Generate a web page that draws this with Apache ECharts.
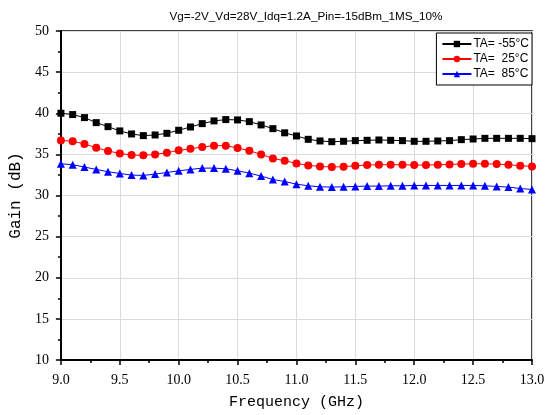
<!DOCTYPE html>
<html style="height: 100%">
	<head>
		<meta charset="utf-8">
	</head>
	<body style="height: 100%; margin: 0; background: #fff">
		<div id="container" style="width: 548px; height: 415px"></div>
		<script type="text/javascript" src="https://cdn.jsdelivr.net/npm/echarts@6/dist/echarts.min.js"></script>
		<script type="text/javascript">
			// frequency points, 9.0 .. 13.0 GHz step 0.1
			const freq = [
				9.0, 9.1, 9.2, 9.3, 9.4, 9.5, 9.6, 9.7, 9.8, 9.9,
				10.0, 10.1, 10.2, 10.3, 10.4, 10.5, 10.6, 10.7, 10.8, 10.9,
				11.0, 11.1, 11.2, 11.3, 11.4, 11.5, 11.6, 11.7, 11.8, 11.9,
				12.0, 12.1, 12.2, 12.3, 12.4, 12.5, 12.6, 12.7, 12.8, 12.9, 13.0
			];
			const gainM55 = [
				40.0, 39.84, 39.47, 38.86, 38.37, 37.85, 37.48, 37.28, 37.36, 37.56,
				37.93, 38.33, 38.74, 39.07, 39.23, 39.19, 38.98, 38.58, 38.13, 37.62,
				37.24, 36.83, 36.63, 36.54, 36.59, 36.67, 36.71, 36.75, 36.71, 36.67,
				36.59, 36.59, 36.63, 36.67, 36.79, 36.87, 36.95, 36.95, 36.95, 36.95, 36.91
			];
			const gain25 = [
				36.7, 36.6, 36.26, 35.81, 35.41, 35.12, 34.92, 34.88, 35.0, 35.2,
				35.49, 35.69, 35.89, 36.06, 36.06, 35.77, 35.45, 35.0, 34.51, 34.23,
				33.9, 33.66, 33.54, 33.46, 33.5, 33.62, 33.7, 33.74, 33.74, 33.74,
				33.7, 33.7, 33.74, 33.78, 33.82, 33.86, 33.86, 33.82, 33.74, 33.62, 33.54
			];
			const gain85 = [
				33.86, 33.74, 33.46, 33.17, 32.89, 32.68, 32.48, 32.44, 32.6, 32.8,
				33.0, 33.17, 33.33, 33.33, 33.25, 33.0, 32.72, 32.36, 31.95, 31.7,
				31.38, 31.18, 31.06, 31.02, 31.06, 31.1, 31.14, 31.14, 31.18, 31.18,
				31.22, 31.22, 31.22, 31.22, 31.22, 31.22, 31.18, 31.1, 31.02, 30.85, 30.73
			];
			const seriesNames = ['TA= -55°C', 'TA=  25°C', 'TA=  85°C'];

			function pairs(ys) {
				return freq.map(function (f, i) { return [f, ys[i]]; });
			}

			var dom = document.getElementById('container');
			var myChart = echarts.init(dom, null, { renderer: 'canvas' });

			const serifFont = 'Liberation Serif';
			const nameFont = 'Liberation Mono';

			function makeSeries(name, ys, color, symbol, size) {
				return {
					name: name,
					type: 'line',
					data: pairs(ys),
					symbol: symbol,
					symbolSize: size,
					showAllSymbol: true,
					lineStyle: { color: color, width: 1 },
					itemStyle: { color: color },
					animation: false
				};
			}

			var option = {
				backgroundColor: '#fff',
				title: {
					text: 'Vg=-2V_Vd=28V_Idq=1.2A_Pin=-15dBm_1MS_10%',
					left: 301,
					textAlign: 'center',
					top: 6,
					textStyle: { fontFamily: 'Liberation Sans', fontSize: 11.7, fontWeight: 'normal', color: '#000' }
				},
				legend: {
					orient: 'vertical',
					right: 16,
					top: 33,
					width: 94,
					data: seriesNames,
					itemWidth: 29,
					itemHeight: 8,
					itemGap: 3,
					padding: [5, 3, 5, 5],
					borderColor: '#000',
					borderWidth: 1,
					backgroundColor: '#fff',
					textStyle: { fontFamily: 'Liberation Sans', fontSize: 12, color: '#000', padding: [0, 0, 0, -3] }
				},
				grid: {
					left: 60,
					right: 16,
					top: 31,
					bottom: 54,
					show: true,
					borderColor: '#000',
					borderWidth: 1.5,
					backgroundColor: 'transparent'
				},
				xAxis: {
					type: 'value',
					min: 9,
					max: 13,
					interval: 0.5,
					name: 'Frequency (GHz)',
					nameLocation: 'middle',
					nameGap: 35,
					nameTextStyle: { fontFamily: nameFont, fontSize: 15, color: '#000' },
					axisLine: { show: true, lineStyle: { color: '#000', width: 2 } },
					axisTick: { show: true, inside: false, length: 5, lineStyle: { color: '#000', width: 1.5 } },
					minorTick: { show: true, splitNumber: 2, length: 3, lineStyle: { color: '#000', width: 1.5 } },
					axisLabel: {
						fontFamily: serifFont, fontSize: 14, color: '#000', margin: 13,
						formatter: function (v) { return v.toFixed(1); }
					},
					splitLine: { show: true, lineStyle: { color: '#dcdcdc', width: 1 } }
				},
				yAxis: {
					type: 'value',
					min: 10,
					max: 50,
					interval: 5,
					name: 'Gain (dB)',
					nameLocation: 'middle',
					nameGap: 34,
					nameTextStyle: { fontFamily: nameFont, fontSize: 16, color: '#000' },
					axisLine: { show: true, lineStyle: { color: '#000', width: 2 } },
					axisTick: { show: true, inside: false, length: 5, lineStyle: { color: '#000', width: 1.5 } },
					minorTick: { show: true, splitNumber: 2, length: 3, lineStyle: { color: '#000', width: 1.5 } },
					axisLabel: { fontFamily: serifFont, fontSize: 14, color: '#000', margin: 12 },
					splitLine: { show: true, lineStyle: { color: '#dcdcdc', width: 1 } }
				},
				series: [
					makeSeries(seriesNames[0], gainM55, '#000000', 'rect', 7),
					makeSeries(seriesNames[1], gain25, '#ff0000', 'circle', 8),
					makeSeries(seriesNames[2], gain85, '#0000ff', 'triangle', 8)
				],
				animation: false
			};

			myChart.setOption(option);
		</script>
	</body>
</html>
